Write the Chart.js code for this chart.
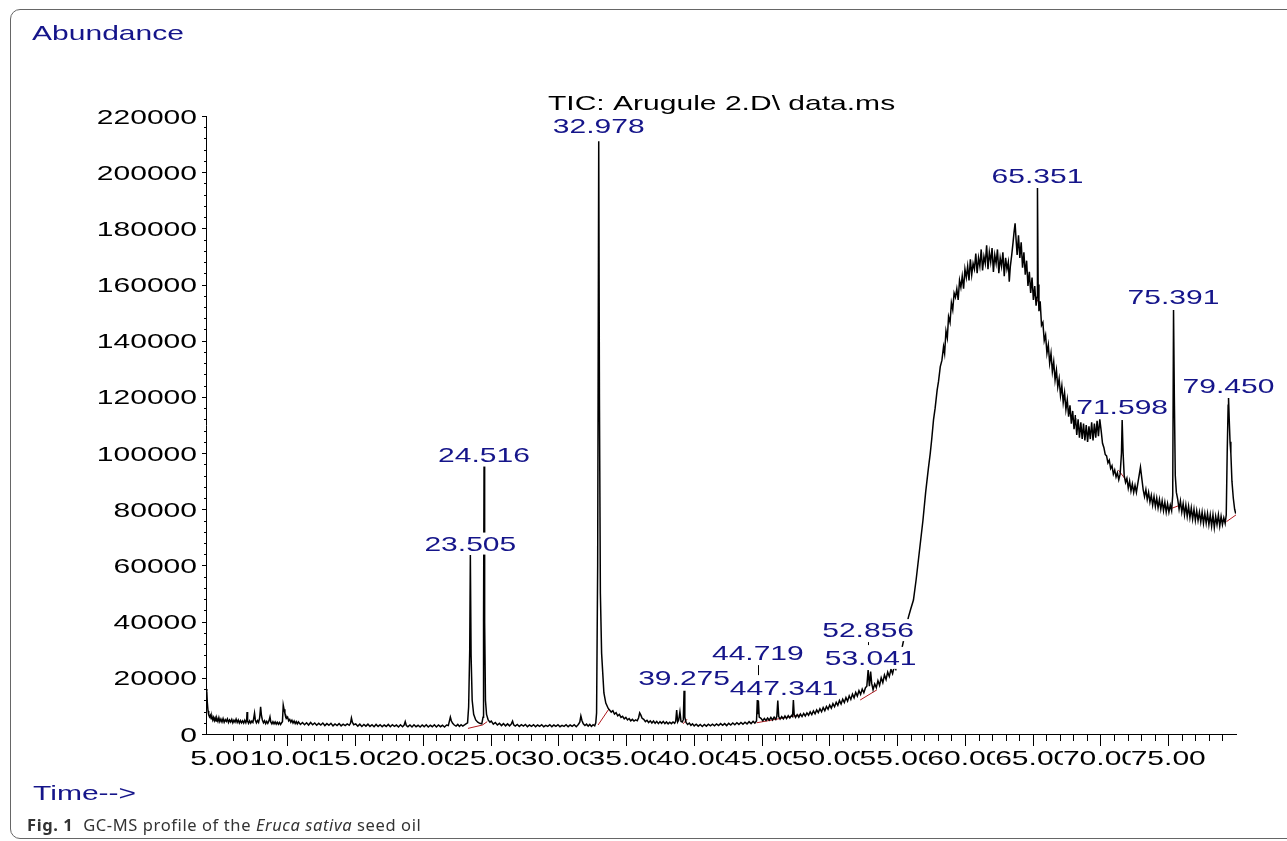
<!DOCTYPE html>
<html>
<head>
<meta charset="utf-8">
<title>GC-MS profile of the Eruca sativa seed oil</title>
<script src="https://cdn.jsdelivr.net/npm/chart.js@4.4.1/dist/chart.umd.min.js"></script>
<style>
  html, body { margin: 0; padding: 0; background: #fff; }
  #wrap { position: relative; width: 1287px; height: 841px; overflow: hidden; }
  #frame { position: absolute; left: 10px; top: 9px; width: 1320px; height: 830px; border: 1.5px solid #666; border-radius: 10px; box-sizing: border-box; }
  #chart { position: absolute; left: 0; top: 0; }
  #caption { position: absolute; left: 27px; top: 815px; line-height: 20px; font-family: "Noto Sans", sans-serif; font-size: 16.5px; letter-spacing: 0.6px; color: #333; white-space: pre; }
</style>
</head>
<body>
<div id="wrap">
  <div id="frame"></div>
  <canvas id="chart" width="1287" height="841"></canvas>
  <div id="caption"><b>Fig. 1</b>  GC-MS profile of the <i>Eruca sativa</i> seed oil</div>
</div>
<script>
'use strict';

// axis ticks / labels
const xTicks = [5, 10, 15, 20, 25, 30, 35, 40, 45, 50, 55, 60, 65, 70, 75];
const xTickLabels = ['5.00', '10.00', '15.00', '20.00', '25.00', '30.00', '35.00', '40.00',
    '45.00', '50.00', '55.00', '60.00', '65.00', '70.00', '75.00'];
const yTicks = [0, 20000, 40000, 60000, 80000, 100000, 120000, 140000, 160000, 180000, 200000, 220000];
const yTickLabels = ['0', '20000', '40000', '60000', '80000', '100000', '120000', '140000',
    '160000', '180000', '200000', '220000'];

// TIC trace, [time (min), abundance]
const traceStart = [
    [4.02, 16000], [4.06, 15000], [4.1, 11000], [4.15, 8200], [4.2, 6800], [4.26, 6100], [4.32, 6700],
    [4.38, 5400], [4.44, 6200], [4.5, 5000], [4.56, 5900], [4.62, 4800], [4.68, 5700], [4.74, 4600],
    [4.8, 5600], [4.88, 4500], [4.95, 5800], [5.02, 4400], [5.1, 5300], [5.18, 4300], [5.26, 5500],
    [5.34, 4200], [5.42, 5100], [5.5, 4500], [5.58, 5400], [5.66, 4100], [5.74, 5000], [5.82, 4300],
    [5.9, 5200], [5.98, 4000], [6.06, 4900], [6.14, 4200], [6.22, 5300], [6.3, 4100], [6.38, 5000],
    [6.46, 3900], [6.54, 4800], [6.62, 4000], [6.7, 4700], [6.78, 3900], [6.86, 4900], [6.94, 4000],
    [7.0, 5000], [7.03, 7800], [7.07, 4600], [7.14, 3800], [7.22, 4700], [7.3, 3900], [7.38, 4600],
    [7.46, 4100], [7.52, 5600], [7.58, 7400], [7.64, 5000], [7.72, 4000], [7.8, 4800], [7.88, 4100],
    [7.96, 5800], [8.03, 9700], [8.09, 6600], [8.16, 5000], [8.24, 4000], [8.32, 4700], [8.4, 3700],
    [8.48, 4500], [8.56, 3800], [8.64, 4600], [8.72, 6100], [8.78, 4300], [8.86, 3600], [8.94, 4400],
    [9.02, 3600], [9.1, 4300], [9.18, 3500], [9.26, 4200], [9.34, 3500], [9.42, 4100], [9.5, 3400],
    [9.58, 4000], [9.64, 4400], [9.7, 10300], [9.76, 8800], [9.82, 7400], [9.88, 6700], [9.95, 5600],
    [10.02, 6000], [10.1, 4700], [10.18, 5200], [10.26, 4200], [10.34, 4900], [10.42, 3900], [10.5, 4600],
    [10.58, 3700], [10.66, 4400], [10.74, 3600]
];

const traceEarlyBase = [
    [10.82, 4300], [10.97, 3400], [11.12, 4100], [11.27, 3300], [11.42, 4000], [11.57, 3200], [11.72, 4100],
    [11.87, 3300], [12.02, 3900], [12.17, 3100], [12.32, 3800], [12.47, 3200], [12.62, 3900], [12.77, 3000],
    [12.92, 3700], [13.07, 3100], [13.22, 3800], [13.37, 2900], [13.52, 3600], [13.67, 3000], [13.82, 3700],
    [13.97, 2900], [14.12, 3500], [14.27, 3000], [14.42, 3600], [14.57, 3100], [14.66, 3800], [14.73, 5700],
    [14.8, 4200], [14.9, 3300], [15.05, 3600], [15.2, 2800], [15.35, 3500], [15.5, 2700], [15.65, 3400],
    [15.8, 2800], [15.95, 3500], [16.1, 2700], [16.25, 3300], [16.4, 2600], [16.55, 3400], [16.7, 2700],
    [16.85, 3300], [17.0, 2600], [17.15, 3200], [17.3, 2700], [17.45, 3400], [17.6, 2600], [17.75, 3300],
    [17.9, 2700], [18.05, 3200], [18.2, 2500], [18.35, 3300], [18.5, 2600], [18.62, 3200], [18.7, 4400],
    [18.78, 3000], [18.9, 2600], [19.05, 3200], [19.2, 2500], [19.35, 3300], [19.5, 2600], [19.65, 3100],
    [19.8, 2500], [19.95, 3200], [20.1, 2600], [20.25, 3300], [20.4, 2500], [20.55, 3100], [20.7, 2600],
    [20.85, 3300], [21.0, 2500], [21.15, 3200], [21.3, 2600], [21.45, 3100], [21.6, 2500], [21.75, 3200],
    [21.88, 3000], [21.96, 4600], [22.03, 6000], [22.1, 4700], [22.2, 3800], [22.32, 3200], [22.45, 2800],
    [22.58, 3400], [22.7, 2700], [22.82, 3300], [22.95, 2800]
];

const traceMainPeaks = [
    [23.1, 3300], [23.3, 4000], [23.38, 9700], [23.46, 30000], [23.505, 63700], [23.56, 28000],
    [23.64, 12000], [23.75, 7000], [23.9, 5000], [24.05, 4200], [24.2, 3800], [24.35, 3600],
    [24.44, 6000], [24.48, 40000], [24.516, 95200], [24.56, 40000], [24.62, 12000], [24.7, 7000],
    [24.82, 5000], [24.95, 4200], [25.05, 4600], [25.2, 3500], [25.35, 4100], [25.5, 3200], [25.65, 3800],
    [25.8, 3000], [25.95, 3700], [26.1, 2900], [26.25, 3600], [26.4, 2900], [26.52, 3500], [26.62, 4600],
    [26.7, 3300], [26.82, 2800], [26.97, 3400], [27.12, 2700], [27.27, 3300], [27.42, 2800], [27.57, 3400],
    [27.72, 2600], [27.87, 3200], [28.02, 2700], [28.17, 3300], [28.32, 2600], [28.47, 3200], [28.62, 2700],
    [28.77, 3300], [28.92, 2600], [29.07, 3100], [29.22, 2700], [29.37, 3300], [29.52, 2600], [29.67, 3200],
    [29.82, 2700], [29.97, 3300], [30.12, 2600], [30.27, 3100], [30.42, 2700], [30.57, 3300], [30.72, 2600],
    [30.87, 3200], [31.02, 2700], [31.17, 3300], [31.32, 2600], [31.47, 3400], [31.58, 4200], [31.66, 6400],
    [31.74, 4800], [31.84, 3600], [31.96, 3000], [32.08, 3500], [32.2, 2800], [32.32, 3400], [32.44, 2700],
    [32.56, 3300], [32.68, 2900], [32.76, 4000], [32.82, 7500], [32.9, 60000], [32.978, 211000],
    [33.03, 120000], [33.1, 50000], [33.19, 28800], [33.36, 14600], [33.5, 11000], [33.68, 9100],
    [33.9, 7800], [34.02, 8300], [34.14, 7100], [34.26, 7600], [34.38, 6500], [34.5, 7000], [34.62, 5900],
    [34.74, 6300], [34.86, 5400], [34.98, 5900], [35.1, 5000], [35.22, 5500], [35.34, 4700], [35.46, 5200],
    [35.58, 4600], [35.7, 5000], [35.82, 4700], [35.92, 5800], [36.0, 7500], [36.08, 6800], [36.18, 5600],
    [36.3, 5200], [36.42, 4400], [36.54, 4900], [36.66, 4100], [36.78, 4700], [36.9, 3900], [37.02, 4600],
    [37.14, 3800], [37.26, 4500], [37.38, 3700], [37.5, 4400], [37.62, 3800], [37.74, 4500], [37.86, 3700],
    [37.98, 4300], [38.1, 3600], [38.22, 4200], [38.34, 3700], [38.46, 4300], [38.58, 3800], [38.66, 4600],
    [38.73, 8500], [38.8, 4300], [38.88, 5000], [38.97, 7900], [39.05, 4500], [39.15, 4300], [39.22, 5200],
    [39.275, 15400], [39.33, 6000], [39.42, 4100], [39.54, 3400], [39.66, 3900], [39.78, 3100], [39.9, 3600]
];

const traceMidRise = [
    [40.02, 2900], [40.17, 3500], [40.32, 2800], [40.47, 3400], [40.62, 2700], [40.77, 3400], [40.92, 2800],
    [41.07, 3500], [41.22, 2900], [41.37, 3500], [41.52, 2900], [41.67, 3600], [41.82, 3000], [41.97, 3700],
    [42.12, 3100], [42.27, 3700], [42.42, 3000], [42.57, 3800], [42.72, 3200], [42.87, 3900], [43.02, 3300],
    [43.17, 4000], [43.32, 3400], [43.47, 4100], [43.62, 3500], [43.77, 4200], [43.92, 3600], [44.07, 4400],
    [44.22, 3700], [44.37, 4500], [44.5, 3900], [44.62, 4600], [44.68, 12100], [44.72, 7000], [44.76, 11800],
    [44.82, 6000], [44.95, 5600], [45.08, 4700], [45.2, 5500], [45.32, 4800], [45.44, 5700], [45.56, 4900],
    [45.68, 5900], [45.8, 5000], [45.92, 6000], [46.04, 5200], [46.12, 6300], [46.19, 11900], [46.26, 6200],
    [46.36, 5300], [46.48, 6200], [46.6, 5400], [46.72, 6400], [46.84, 5500], [46.96, 6500], [47.08, 5700],
    [47.2, 6600], [47.28, 6200], [47.341, 12100], [47.4, 6900], [47.5, 5900], [47.62, 6900], [47.74, 6000],
    [47.86, 7100], [47.98, 6200], [48.1, 7300], [48.22, 6400], [48.34, 7500], [48.46, 6700], [48.58, 7900],
    [48.7, 6900], [48.82, 8200], [48.94, 7200], [49.06, 8600], [49.18, 7600], [49.3, 9000], [49.42, 7900],
    [49.54, 9400], [49.66, 8300], [49.78, 9800], [49.9, 8800], [50.02, 10300], [50.14, 9200], [50.26, 10800],
    [50.38, 9700], [50.5, 11300], [50.62, 10200], [50.74, 11900], [50.86, 10700], [50.98, 12400],
    [51.1, 11200], [51.22, 13000], [51.34, 11700], [51.46, 13600], [51.58, 12300], [51.7, 14200],
    [51.82, 12900], [51.94, 14800], [52.06, 13500], [52.18, 15400], [52.3, 14100], [52.42, 16000],
    [52.54, 14700], [52.66, 16500], [52.76, 17000], [52.856, 22800], [52.95, 17000], [53.041, 22200],
    [53.12, 18000], [53.22, 15800], [53.34, 17800], [53.46, 16500], [53.58, 19000], [53.7, 17300],
    [53.82, 20000], [53.94, 18300], [54.06, 21000], [54.18, 19400], [54.3, 22000], [54.42, 20500],
    [54.54, 23000], [54.66, 21500], [54.78, 24000], [54.9, 23000], [55.05, 25500], [55.2, 27500],
    [55.35, 30500], [55.5, 34000], [55.65, 38000], [55.84, 41800], [56.0, 44500], [56.2, 47700]
];

const traceHump = [
    [56.4, 55000], [56.65, 65500], [56.9, 76000], [57.1, 86000], [57.3, 94500], [57.44, 99900],
    [57.55, 105000], [57.68, 111800], [57.8, 116000], [57.95, 122500], [58.05, 125500], [58.18, 130800],
    [58.3, 133000], [58.42, 137900], [58.5, 135500], [58.6, 143500], [58.7, 141000], [58.79, 148600],
    [58.9, 146500], [59.0, 153500], [59.1, 151000], [59.2, 157000], [59.3, 155500], [59.4, 158500],
    [59.5, 154500], [59.6, 161500], [59.7, 159000], [59.8, 163000], [59.9, 158500], [60.0, 165500],
    [60.1, 162500], [60.2, 166500], [60.3, 161500], [60.4, 169000], [60.5, 163500], [60.6, 167500],
    [60.7, 165500], [60.8, 171000], [60.9, 164000], [61.0, 169500], [61.1, 166500], [61.2, 172500],
    [61.3, 165000], [61.4, 170000], [61.5, 167500], [61.6, 174000], [61.7, 165500], [61.8, 171500],
    [61.9, 168000], [62.0, 173000], [62.1, 164500], [62.2, 170500], [62.3, 167500], [62.4, 172500],
    [62.5, 164000], [62.6, 169500], [62.7, 166500], [62.8, 171500], [62.9, 163000], [63.0, 169500],
    [63.1, 165500], [63.2, 168000], [63.27, 161000], [63.35, 166500], [63.45, 170500], [63.55, 175000],
    [63.62, 178500], [63.7, 181800], [63.78, 175500], [63.85, 170500], [63.95, 177500], [64.05, 169500],
    [64.15, 175000], [64.25, 166000], [64.35, 171500], [64.45, 163500], [64.55, 168500], [64.65, 159500],
    [64.75, 164500], [64.85, 157000], [64.95, 162500], [65.05, 154500], [65.15, 159500], [65.25, 152500],
    [65.32, 155500], [65.351, 194400], [65.4, 160000], [65.46, 150500], [65.55, 154000], [65.65, 145500],
    [65.75, 146500], [65.85, 140000], [65.95, 142000], [66.05, 135500], [66.15, 138500], [66.25, 132000],
    [66.35, 135500], [66.45, 129000], [66.55, 132500], [66.65, 126000], [66.75, 129500], [66.85, 123500],
    [66.95, 126500], [67.05, 120500], [67.15, 124000], [67.25, 118000], [67.35, 121500], [67.45, 115500],
    [67.55, 119000], [67.65, 113000], [67.75, 117000], [67.85, 110500], [67.95, 115000], [68.05, 108500],
    [68.15, 113500], [68.25, 106500], [68.35, 112000], [68.45, 105500], [68.55, 111000], [68.65, 105000],
    [68.75, 110500], [68.85, 104500], [68.95, 110000], [69.05, 104000], [69.15, 109500], [69.25, 105000],
    [69.35, 111000], [69.45, 104500], [69.55, 110500], [69.65, 105500], [69.75, 111500], [69.85, 106000],
    [69.95, 112000], [70.05, 108000], [70.15, 103500], [70.25, 102000], [70.35, 99500], [70.45, 99000],
    [70.55, 96500], [70.65, 97500], [70.75, 94500], [70.85, 95500], [70.95, 92500], [71.05, 94000],
    [71.15, 91500], [71.25, 93000], [71.35, 90500], [71.45, 92500], [71.55, 100000], [71.6, 111800],
    [71.67, 100000], [71.75, 92000], [71.85, 89500], [71.95, 91000], [72.05, 87500], [72.15, 90000],
    [72.25, 86500], [72.35, 89000], [72.45, 86000], [72.55, 88500], [72.65, 86000], [72.75, 89000],
    [72.85, 92000], [72.95, 95000], [73.05, 91000], [73.15, 87000], [73.25, 84500], [73.35, 87000],
    [73.45, 83500], [73.55, 86000], [73.65, 82500], [73.75, 85000], [73.85, 81500], [73.95, 84500],
    [74.05, 81000], [74.15, 84000], [74.25, 80500], [74.35, 83500], [74.45, 80000], [74.55, 83000],
    [74.65, 79500], [74.75, 82500], [74.85, 79000], [74.95, 82000], [75.05, 79000], [75.15, 81500],
    [75.25, 79500], [75.33, 85000], [75.391, 150900], [75.45, 120000], [75.52, 92000], [75.6, 86000],
    [75.7, 83500], [75.8, 80000], [75.9, 83000], [76.0, 79000], [76.1, 82000], [76.2, 78000], [76.3, 81500],
    [76.4, 77500], [76.5, 81000], [76.6, 77000], [76.7, 80500], [76.8, 76500], [76.9, 80000], [77.0, 76000],
    [77.1, 79500], [77.2, 76000], [77.3, 79000], [77.4, 75500], [77.5, 79000], [77.6, 75000], [77.7, 78500],
    [77.8, 75000], [77.9, 78500], [78.0, 74500], [78.1, 78000], [78.2, 74000], [78.3, 78000], [78.4, 73500],
    [78.5, 77500], [78.6, 74500], [78.7, 78000], [78.8, 74000], [78.9, 77500], [79.0, 74500], [79.1, 77000],
    [79.2, 75000], [79.28, 78000], [79.35, 100000], [79.42, 117000], [79.45, 119600], [79.5, 112000],
    [79.56, 104000], [79.62, 100000], [79.7, 90000], [79.8, 84000], [79.9, 80000], [79.98, 78500]
];

// integration baselines (dark red)
const integrationBaselines = [
    [[23.33, 2000], [24.4, 3200], [24.75, 4400]],
    [[32.93, 3200], [33.73, 8900]],
    [[39.2, 3600], [39.5, 5300]],
    [[44.64, 4000], [47.84, 6800]],
    [[52.27, 12100], [53.5, 15700]],
    [[65.2, 155500], [65.56, 152700]],
    [[71.32, 94000], [71.99, 89700]],
    [[75.29, 80400], [75.9, 81500]],
    [[79.3, 75600], [80.0, 78000]]
];

// peak annotations: text, retention time it sits over, abundance at its baseline
const peakNames = ['23.505', '24.516', '32.978', '39.275', '44.719', '447.341',
    '52.856', '53.041', '65.351', '71.598', '75.391', '79.450'];
const peakLabelTimes = [23.505, 24.516, 32.978, 39.275, 44.719, 46.65,
    52.856, 53.041, 65.351, 71.598, 75.391, 79.450];
const peakLabelLevels = [65300, 96800, 213900, 17400, 26300, 13900,
    34500, 24600, 196100, 113900, 153100, 121400];

const NAVY = '#15158a';
const STRETCH = 1.43; // the instrument print uses a widened font
const FONT = '21px "Liberation Sans", Arial, sans-serif';

function wideText(ctx, text, x, y, align, color, clearBg) {
    ctx.save();
    ctx.font = FONT;
    const w = ctx.measureText(text).width * STRETCH;
    let left = x;
    if (align === 'center') left = x - w / 2;
    if (align === 'right') left = x - w;
    if (clearBg) {
        ctx.fillStyle = '#fff';
        ctx.fillRect(left, y - 18, w, 22);
    }
    ctx.translate(left, y);
    ctx.scale(STRETCH, 1);
    ctx.fillStyle = color;
    ctx.textAlign = 'left';
    ctx.textBaseline = 'alphabetic';
    ctx.fillText(text, 0, 0);
    ctx.restore();
}

const chemDecor = {
    id: 'chemDecor',
    afterDraw(chart) {
        const ctx = chart.ctx;
        const xs = chart.scales.x;
        const ys = chart.scales.y;
        const area = chart.chartArea;

        ctx.save();
        ctx.strokeStyle = '#000';
        ctx.lineWidth = 1;
        // x ticks, minor each minute
        for (let m = 6; m <= 79; m++) {
            const px = Math.round(xs.getPixelForValue(m)) + 0.5;
            const len = m % 5 === 0 ? 12 : 7;
            ctx.beginPath();
            ctx.moveTo(px, area.bottom);
            ctx.lineTo(px, area.bottom + len);
            ctx.stroke();
        }
        // y ticks, minor each 4000
        for (let v = 0; v <= 220000; v += 4000) {
            const py = Math.round(ys.getPixelForValue(v)) + 0.5;
            const len = v % 20000 === 0 ? 4 : 2;
            ctx.beginPath();
            ctx.moveTo(area.left, py);
            ctx.lineTo(area.left - len, py);
            ctx.stroke();
        }
        ctx.restore();

        for (let i = 0; i < yTicks.length; i++) {
            wideText(ctx, yTickLabels[i], area.left - 9, ys.getPixelForValue(yTicks[i]) + 7.5, 'right', '#000', false);
        }
        // later labels overwrite the right end of earlier ones, as in the print
        for (let i = 0; i < xTicks.length; i++) {
            wideText(ctx, xTickLabels[i], xs.getPixelForValue(xTicks[i]), area.bottom + 31, 'center', '#000', true);
        }

        for (let i = 0; i < peakNames.length; i++) {
            const px = xs.getPixelForValue(peakLabelTimes[i]);
            const py = ys.getPixelForValue(peakLabelLevels[i]);
            wideText(ctx, peakNames[i], px, py, 'center', NAVY, true);
        }
        // short leader marks under the stacked labels
        ctx.save();
        ctx.strokeStyle = '#000';
        ctx.lineWidth = 1;
        [[44.719, 26300, 10], [52.856, 34500, 3]].forEach(function (d) {
            const px = Math.round(xs.getPixelForValue(d[0])) + 0.5;
            const py = ys.getPixelForValue(d[1]);
            ctx.beginPath();
            ctx.moveTo(px, py + 5);
            ctx.lineTo(px, py + 5 + d[2]);
            ctx.stroke();
        });
        ctx.restore();

        wideText(ctx, 'Abundance', 32, 40, 'left', NAVY, false);
        wideText(ctx, 'Time-->', 33, 800, 'left', NAVY, false);
        wideText(ctx, 'TIC: Arugule 2.D\\ data.ms', 548, 110, 'left', '#000', false);
    }
};

const tracePoints = traceStart.concat(traceEarlyBase, traceMainPeaks, traceMidRise, traceHump)
    .map(function (p) { return { x: p[0], y: p[1] }; });

let baselinePoints = [];
integrationBaselines.forEach(function (seg) {
    seg.forEach(function (p) { baselinePoints.push({ x: p[0], y: p[1] }); });
    baselinePoints.push({ x: seg[seg.length - 1][0], y: null });
});

new Chart(document.getElementById('chart'), {
    type: 'line',
    data: {
        datasets: [{
            label: 'TIC',
            data: tracePoints,
            borderColor: '#000',
            borderWidth: 1.5,
            pointRadius: 0,
            tension: 0
        }, {
            label: 'baseline',
            data: baselinePoints,
            borderColor: '#b0191e',
            borderWidth: 1,
            pointRadius: 0,
            spanGaps: false,
            tension: 0
        }]
    },
    options: {
        responsive: false,
        animation: false,
        events: [],
        layout: { padding: { left: 0, top: 116, right: 51, bottom: 0 } },
        plugins: { legend: { display: false }, tooltip: { enabled: false } },
        scales: {
            x: {
                type: 'linear',
                min: 4,
                max: 80,
                grid: { display: false },
                ticks: { display: false },
                border: { display: true, color: '#000', width: 1 },
                afterFit: function (s) { s.height = 107; }
            },
            y: {
                type: 'linear',
                min: 0,
                max: 220000,
                grid: { display: false },
                ticks: { display: false },
                border: { display: true, color: '#000', width: 1 },
                afterFit: function (s) { s.width = 206; }
            }
        }
    },
    plugins: [chemDecor]
});
</script>
</body>
</html>
